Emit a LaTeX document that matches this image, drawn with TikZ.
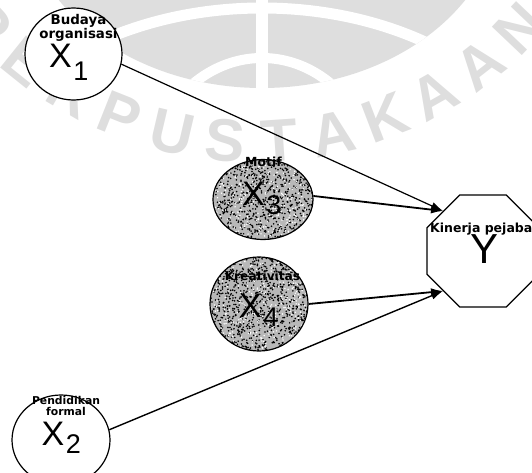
\documentclass[tikz,border=0pt]{standalone}
\usepackage{fontspec}
\setmainfont{Liberation Sans}
\newfontfamily\lblfont{DejaVu Sans}
\newfontfamily\symfont{Liberation Sans}
\usetikzlibrary{shapes.geometric,arrows.meta}

% variable symbol: big letter with a lowered index
\newcommand{\varsym}[3]{{\fontsize{34}{34}\selectfont #1}\kern1.5pt\raisebox{-#3}{\fontsize{27}{27}\selectfont #2}}

\begin{document}
\begin{tikzpicture}[x=1pt,y=-1pt,
  wm/.style={fill=black!13},
  wmtext/.style={inner sep=0pt, text=black!13, font=\symfont\bfseries\fontsize{60}{60}\selectfont},
  var/.style={ellipse, draw=black, line width=1.2pt, fill=white, inner sep=0pt},
  stipple/.style={fill=black!28, path picture={
      \foreach \k in {1,...,1000}{
        \fill[black] ([shift={({rand*52pt},{rand*48pt})}]path picture bounding box.center) circle[radius=0.9pt];}
      \foreach \k in {1,...,350}{
        \fill[white] ([shift={({rand*52pt},{rand*48pt})}]path picture bounding box.center) circle[radius=0.8pt];}}},
  lab/.style={inner sep=0pt, align=center},
  sym/.style={inner sep=0pt, font=\symfont},
  conn/.style={-{Latex[length=12pt,width=8pt]}},
]
\useasboundingbox (0,0) rectangle (532,473);
\pgfmathsetseed{4711}

% faint library seal in the background: globe
\begin{scope}
  \clip (262,-100) ellipse [x radius=240, y radius=188];
  \fill[wm] (0,-300) rectangle (532,100);
  \draw[white, line width=11pt] (262,220) ellipse [x radius=300, y radius=212];
  \draw[white, line width=10pt] (262,200) ellipse [x radius=120, y radius=142];
  \fill[white] (256,-300) rectangle (268,100);
\end{scope}
% lettering of the seal along its lower rim
\foreach \ch [count=\i] in {P,E,R,P,U,S,T,A,K,A,A,N}{
  \pgfmathsetmacro\ang{137.3-(\i-1)*8.53}
  \node[wmtext, rotate=90-\ang] (wm\i) at ({255+365*cos(\ang)},{-223+365*sin(\ang)}) {\ch};
}

% variables
\node[var, minimum width=97pt, minimum height=92pt] (x1) at (73.5,54) {};
\node[var, stipple, minimum width=100pt, minimum height=80pt] (x3) at (263,199.5) {};
\node[var, stipple, minimum width=98pt, minimum height=94pt] (x4) at (259,304) {};
\node[var, minimum width=98pt, minimum height=90pt] (x2) at (61,440) {};
\node[regular polygon, regular polygon sides=8, minimum size=121.2pt, draw=black,
      line width=1.2pt, fill=white, inner sep=0pt] (y) at (483,251) {};

% labels
\node[lab, anchor=north, font=\lblfont\bfseries\fontsize{13.4}{12.5}\selectfont] (x1lab) at (78.5,14.5) {Budaya\\organisasi};
\node[lab, anchor=base, font=\lblfont\bfseries\fontsize{12.5}{12.5}\selectfont] (x3lab) at (263.5,167) {Motif};
\node[lab, anchor=base, font=\lblfont\bfseries\fontsize{12.2}{12.2}\selectfont] (x4lab) at (262.5,280) {Kreativitas};
\node[lab, anchor=north, font=\lblfont\bfseries\fontsize{10.8}{10.5}\selectfont] (x2lab) at (66,396.5) {Pendidikan\\formal};
\node[lab, anchor=base west, font=\lblfont\bfseries\fontsize{12.5}{12.5}\selectfont] (ylab) at (430,232) {Kinerja pejabat};

% symbols
\node[sym, anchor=base west] (x1sym) at (49,68) {\varsym{X}{1}{13pt}};
\node[sym, anchor=base west] (x3sym) at (242,205) {\varsym{X}{3}{9pt}};
\node[sym, anchor=base west] (x4sym) at (239,317) {\varsym{X}{4}{9pt}};
\node[sym, anchor=base west] (x2sym) at (41.5,445) {\varsym{X}{2}{8pt}};
\node[sym, anchor=base, font=\symfont\fontsize{42}{42}\selectfont] (ysym) at (484.5,263) {Y};

% paths
\draw[conn, line width=1.2pt] (x1.-12) -- (y.135);
\draw[conn, line width=1.8pt] (x3.4) -- (y.135);
\draw[conn, line width=1.8pt] (x4.east) -- (y.225);
\draw[conn, line width=1.4pt] (x2.12) -- (y.225);
\end{tikzpicture}
\end{document}
